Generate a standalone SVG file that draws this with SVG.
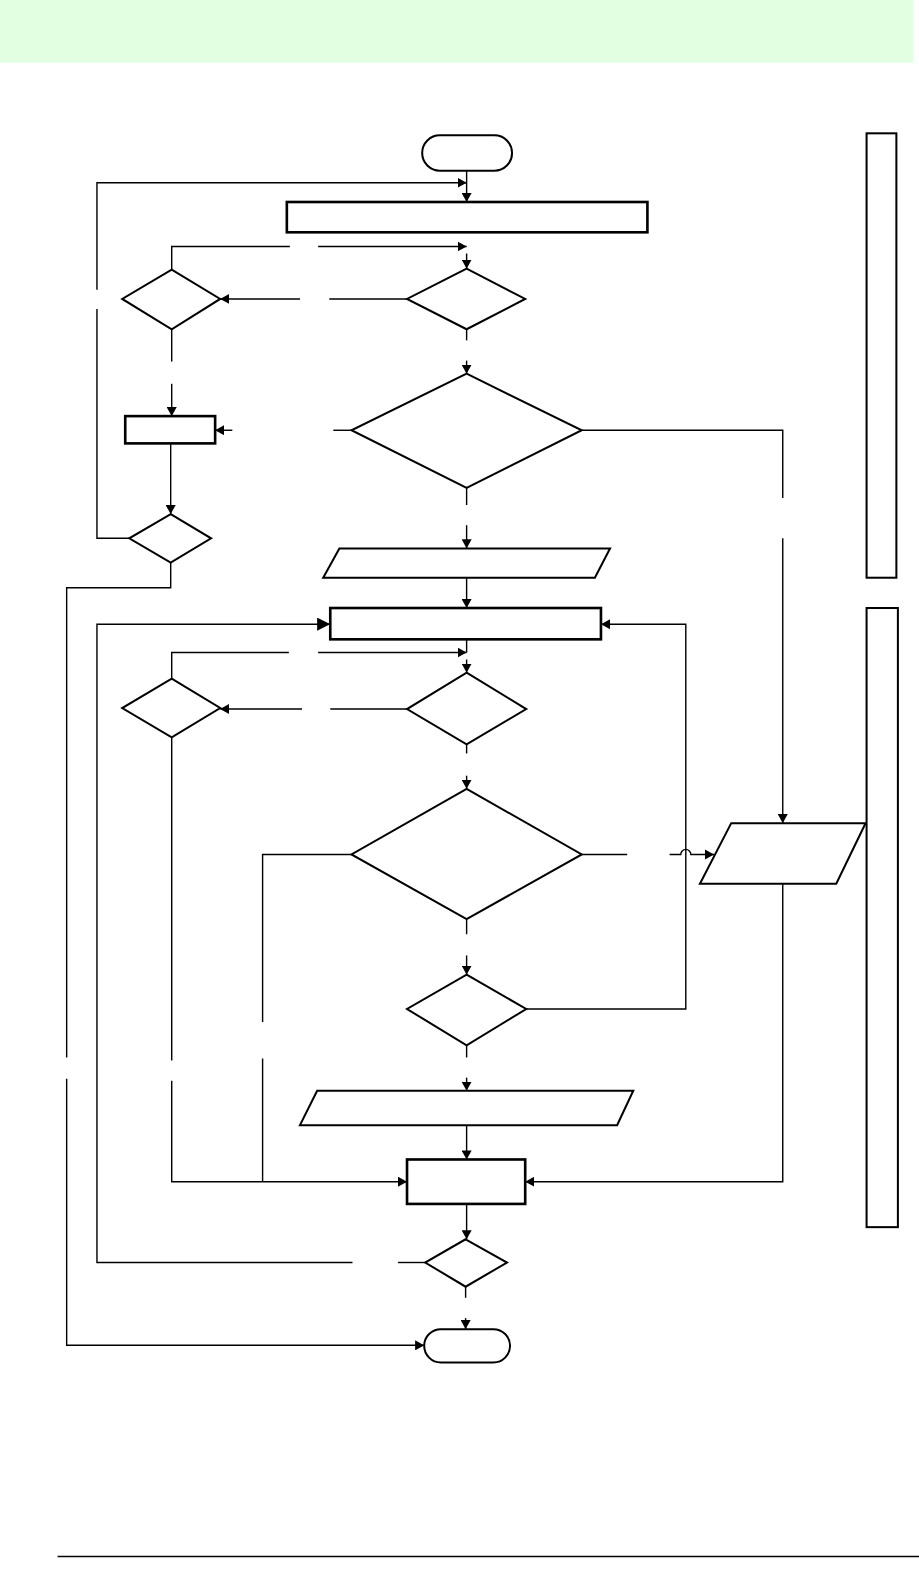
<svg xmlns="http://www.w3.org/2000/svg" width="919" height="1583" viewBox="0 0 919 1583">
<style>
.s{fill:#fff;stroke:#000;stroke-width:2}
.t{fill:#fff;stroke:#000;stroke-width:2.6}
.c{fill:none;stroke:#000;stroke-width:1.4}
.a{marker-end:url(#ah)}
.b{marker-end:url(#ab)}
</style>
<defs>
<marker id="ah" viewBox="0 0 9 10" refX="9" refY="5" markerWidth="9" markerHeight="10" orient="auto" markerUnits="userSpaceOnUse"><path d="M0,0 L9,5 L0,10 z" fill="#000"/></marker>
<marker id="ab" viewBox="0 0 13 13" refX="13" refY="6.5" markerWidth="13" markerHeight="13" orient="auto" markerUnits="userSpaceOnUse"><path d="M0,0 L13,6.5 L0,13 z" fill="#000"/></marker>
</defs>
<g transform="scale(1.01)">
<rect x="0" y="0" width="904" height="62" fill="#e2ffe2"/>
<line x1="57" y1="1541" x2="910" y2="1541" stroke="#000" stroke-width="1.5"/>

<g id="connectors">
<path class="c a" d="M462,169 V200"/>
<path class="c" d="M128,533 H96 V306"/>
<path class="c a" d="M96,287 V181 H462"/>
<path class="c" d="M170,267 V244 H287"/>
<path class="c a" d="M315,244 H462"/>
<path class="c a" d="M462,251 V266"/>
<path class="c" d="M403,296 H326"/>
<path class="c a" d="M297,296 H218"/>
<path class="c" d="M170,326 V358"/>
<path class="c a" d="M170,380 V412"/>
<path class="c" d="M462,326 V337"/>
<path class="c a" d="M462,357 V370"/>
<path class="c" d="M348,426 H330"/>
<path class="c a" d="M230,426 H213"/>
<path class="c" d="M576,426 H775 V493"/>
<path class="c a" d="M775,533 V815"/>
<path class="c" d="M462,483 V500"/>
<path class="c a" d="M462,520 V543"/>
<path class="c a" d="M462,572 V602"/>
<path class="c a" d="M169,439 V509"/>
<path class="c" d="M169,557 V582 H66 V1047"/>
<path class="c a" d="M66,1068 V1332 H420"/>
<path class="c" d="M462,633 V646"/>
<path class="c" d="M170,672 V646 H286"/>
<path class="c a" d="M315,646 H462"/>
<path class="c a" d="M462,653 V666"/>
<path class="c" d="M403,702 H327"/>
<path class="c a" d="M299,702 H218"/>
<path class="c" d="M170,730 V1050"/>
<path class="c a" d="M170,1070 V1170 H403"/>
<path class="c" d="M348,846 H260 V1012"/>
<path class="c" d="M260,1048 V1170"/>
<path class="c" d="M462,737 V746"/>
<path class="c a" d="M462,768 V781"/>
<path class="c" d="M576,846 H621"/>
<path class="c a" d="M663,846 H674 A5,5 0 0 1 684,846 H707"/>
<path class="c" d="M462,910 V925"/>
<path class="c a" d="M462,946 V965"/>
<path class="c a" d="M521,999 H679 V618 H595"/>
<path class="c" d="M462,1035 V1047"/>
<path class="c a" d="M462,1067 V1080"/>
<path class="c a" d="M462,1114 V1148"/>
<path class="c a" d="M775,875 V1170 H520"/>
<path class="c a" d="M462,1192 V1227"/>
<path class="c" d="M421,1250 H394"/>
<path class="c b" d="M349,1250 H96 V618 H327"/>
<path class="c" d="M461,1274 V1285"/>
<path class="c a" d="M461,1305 V1316"/>
</g>

<g id="start"><rect class="s" x="418" y="134" width="89" height="35" rx="17.5"/></g>
<g id="process1"><rect class="t" x="284" y="200" width="357" height="30"/></g>
<g id="decisionA"><polygon class="s" points="170,267 218,296 170,326 121,296"/></g>
<g id="decisionB"><polygon class="s" points="462,266 520,296 462,326 403,296"/></g>
<g id="processC"><rect class="t" x="124" y="412" width="89" height="27"/></g>
<g id="decisionD"><polygon class="s" points="462,370 576,426 462,483 348,426"/></g>
<g id="decisionF"><polygon class="s" points="169,509 209,533 169,557 128,533"/></g>
<g id="io1"><polygon class="s" points="336,543 604,543 589,572 320,572"/></g>
<g id="processE"><rect class="t" x="327" y="602" width="268" height="31"/></g>
<g id="decisionH"><polygon class="s" points="170,672 218,701 170,730 121,701"/></g>
<g id="decisionI"><polygon class="s" points="462,666 521,702 462,737 403,702"/></g>
<g id="decisionD2"><polygon class="s" points="462,781 576,846 462,910 348,846"/></g>
<g id="decisionJ"><polygon class="s" points="462,965 521,999 462,1035 403,999"/></g>
<g id="io3"><polygon class="s" points="314,1080 627,1080 611,1114 297,1114"/></g>
<g id="io4"><polygon class="s" points="724,815 857,815 828,875 693,875"/></g>
<g id="processK"><rect class="t" x="403" y="1148" width="117" height="44"/></g>
<g id="decisionL"><polygon class="s" points="461,1227 502,1250 461,1274 421,1250"/></g>
<g id="end"><rect class="s" x="420" y="1316" width="85" height="33" rx="16.5"/></g>
<g id="side1"><rect class="s" x="858" y="132" width="29.5" height="440" stroke-width="1.5"/></g>
<g id="side2"><rect class="s" x="858" y="602" width="31" height="613" stroke-width="1.5"/></g>
</g>
</svg>
